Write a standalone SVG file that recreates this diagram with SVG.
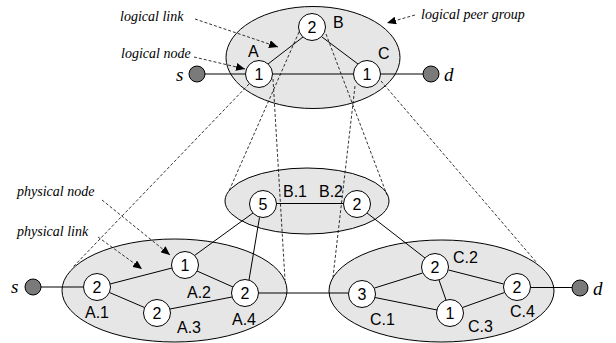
<svg xmlns="http://www.w3.org/2000/svg" width="616" height="343" viewBox="0 0 616 343">
  <style>
    .group { fill: #e6e6e6; stroke: #000; stroke-width: 1; }
    .node circle { fill: #fff; stroke: #000; stroke-width: 1; }
    .node text { font-family: "Liberation Sans", Arial, sans-serif; font-size: 16px; text-anchor: middle; fill: #000; }
    .end circle { fill: #7a7a7a; stroke: #000; stroke-width: 1; }
    .end text { font-family: "Liberation Serif", "Times New Roman", serif; font-style: italic; font-size: 19px; fill: #000; }
    .link { stroke: #000; stroke-width: 1; fill: none; }
    .map { stroke: #000; stroke-width: 0.8; stroke-dasharray: 3 2; fill: none; }
    .pointer { stroke: #000; stroke-width: 0.8; stroke-dasharray: 3 2; fill: none; marker-end: url(#tip); }
    .label { font-family: "Liberation Sans", Arial, sans-serif; font-size: 16px; fill: #000; }
    .note { font-family: "Liberation Serif", "Times New Roman", serif; font-style: italic; font-size: 14px; fill: #000; }
  </style>
  <defs>
    <marker id="tip" markerUnits="userSpaceOnUse" markerWidth="10" markerHeight="8" refX="9" refY="4" orient="auto">
      <path d="M0,0 L9,4 L0,8 Z" fill="#000"/>
    </marker>
  </defs>

  <!-- peer group ellipses -->
  <g id="group-logical"><ellipse class="group" cx="313" cy="57.5" rx="87" ry="51"/></g>
  <g id="group-B"><ellipse class="group" cx="307" cy="201" rx="82" ry="33"/></g>
  <g id="group-A"><ellipse class="group" cx="174.5" cy="290.5" rx="112.5" ry="51.5"/></g>
  <g id="group-C"><ellipse class="group" cx="441.5" cy="291" rx="112.5" ry="51"/></g>

  <!-- connectors -->
  <g id="connectors">
    <!-- logical level -->
    <line class="link" x1="205" y1="74" x2="245.5" y2="74"/>
    <line class="link" x1="272.5" y1="74" x2="353.5" y2="74"/>
    <line class="link" x1="380.5" y1="74" x2="423" y2="74"/>
    <line class="link" x1="268" y1="64" x2="303" y2="37"/>
    <line class="link" x1="322" y1="37" x2="358" y2="64"/>
    <!-- physical level -->
    <line class="link" x1="41" y1="287" x2="83.5" y2="287"/>
    <line class="link" x1="110" y1="284" x2="172" y2="268"/>
    <line class="link" x1="109.5" y1="292.5" x2="144.5" y2="307.5"/>
    <line class="link" x1="197" y1="271" x2="233" y2="287"/>
    <line class="link" x1="170" y1="309" x2="232" y2="297"/>
    <line class="link" x1="194.5" y1="255.5" x2="253" y2="213"/>
    <line class="link" x1="249" y1="280" x2="259.5" y2="217.5"/>
    <line class="link" x1="276.5" y1="203.5" x2="343.5" y2="203.5"/>
    <line class="link" x1="367" y1="213" x2="425" y2="258"/>
    <line class="link" x1="258.5" y1="293" x2="348.5" y2="293"/>
    <line class="link" x1="374.5" y1="288" x2="422.5" y2="273"/>
    <line class="link" x1="375" y1="297.5" x2="437" y2="310"/>
    <line class="link" x1="439" y1="280" x2="446" y2="300"/>
    <line class="link" x1="448.5" y1="270" x2="503.5" y2="284"/>
    <line class="link" x1="462.5" y1="307.5" x2="504.5" y2="292.5"/>
    <line class="link" x1="530.5" y1="287.5" x2="572" y2="287.5"/>
    <!-- mapping of logical nodes onto peer groups -->
    <line class="map" x1="249" y1="84" x2="73" y2="267"/>
    <line class="map" x1="273" y1="79" x2="285" y2="280"/>
    <line class="map" x1="299" y1="32" x2="229" y2="191"/>
    <line class="map" x1="326" y1="34" x2="387" y2="195"/>
    <line class="map" x1="355" y1="86" x2="333" y2="277"/>
    <line class="map" x1="381" y1="81" x2="537" y2="263"/>
    <!-- annotation pointers -->
    <line class="pointer" x1="195" y1="19" x2="278" y2="47"/>
    <line class="pointer" x1="194" y1="57" x2="245" y2="69"/>
    <line class="pointer" x1="415" y1="15" x2="387" y2="23"/>
    <line class="pointer" x1="102" y1="200" x2="170" y2="255"/>
    <line class="pointer" x1="98" y1="237" x2="142" y2="269"/>
  </g>

  <!-- logical nodes -->
  <g id="node-A" class="node"><circle cx="259" cy="74" r="13.5"/><text x="259" y="80">1</text></g>
  <g id="node-B" class="node"><circle cx="312" cy="27" r="13.5"/><text x="312" y="33">2</text></g>
  <g id="node-C" class="node"><circle cx="367" cy="74" r="13.5"/><text x="367" y="80">1</text></g>
  <g id="src-top" class="end"><circle cx="197" cy="74" r="8"/><text x="176" y="81">s</text></g>
  <g id="dst-top" class="end"><circle cx="431" cy="74" r="8"/><text x="444" y="81">d</text></g>

  <!-- physical nodes -->
  <g id="node-A1" class="node"><circle cx="97" cy="287" r="13.5"/><text x="97" y="293">2</text></g>
  <g id="node-A2" class="node"><circle cx="185" cy="265" r="13.5"/><text x="185" y="271">1</text></g>
  <g id="node-A3" class="node"><circle cx="157" cy="313" r="13.5"/><text x="157" y="319">2</text></g>
  <g id="node-A4" class="node"><circle cx="245" cy="293" r="13.5"/><text x="245" y="299">2</text></g>
  <g id="node-B1" class="node"><circle cx="263" cy="204" r="13.5"/><text x="263" y="210">5</text></g>
  <g id="node-B2" class="node"><circle cx="357" cy="204" r="13.5"/><text x="357" y="210">2</text></g>
  <g id="node-C1" class="node"><circle cx="362" cy="294" r="13.5"/><text x="362" y="300">3</text></g>
  <g id="node-C2" class="node"><circle cx="435" cy="267" r="13.5"/><text x="435" y="273">2</text></g>
  <g id="node-C3" class="node"><circle cx="450" cy="313" r="13.5"/><text x="450" y="319">1</text></g>
  <g id="node-C4" class="node"><circle cx="517" cy="287" r="13.5"/><text x="517" y="293">2</text></g>
  <g id="src-bottom" class="end"><circle cx="33" cy="287" r="8"/><text x="11" y="293">s</text></g>
  <g id="dst-bottom" class="end"><circle cx="580" cy="288" r="8"/><text x="593" y="295">d</text></g>

  <!-- node names -->
  <g id="names">
    <text class="label" x="248" y="57">A</text>
    <text class="label" x="333" y="28">B</text>
    <text class="label" x="378" y="59">C</text>
    <text class="label" x="283" y="197">B.1</text>
    <text class="label" x="319" y="197">B.2</text>
    <text class="label" x="85" y="318">A.1</text>
    <text class="label" x="187" y="298">A.2</text>
    <text class="label" x="177" y="333">A.3</text>
    <text class="label" x="232" y="325">A.4</text>
    <text class="label" x="370" y="325">C.1</text>
    <text class="label" x="453" y="263">C.2</text>
    <text class="label" x="468" y="332">C.3</text>
    <text class="label" x="510" y="317">C.4</text>
  </g>

  <!-- annotations -->
  <g id="notes">
    <text class="note" x="120" y="21">logical link</text>
    <text class="note" x="121" y="58">logical node</text>
    <text class="note" x="421" y="19">logical peer group</text>
    <text class="note" x="17" y="196">physical node</text>
    <text class="note" x="17" y="236">physical link</text>
  </g>
</svg>
